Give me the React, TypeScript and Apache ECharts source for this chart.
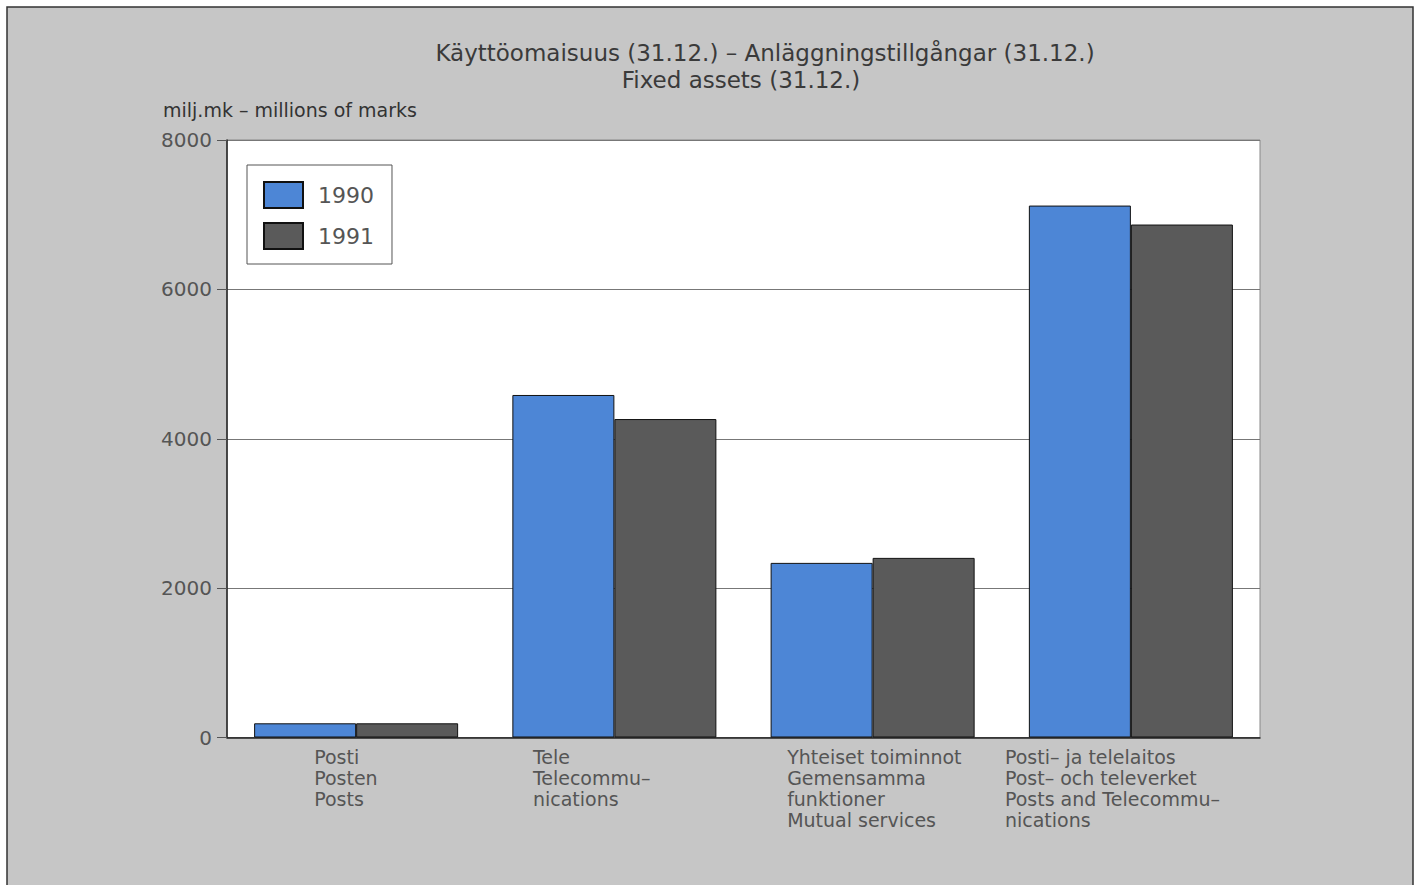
import React, { useEffect, useRef } from "react";
import * as echarts from "echarts";

const categories = [
  ["Posti", "Posten", "Posts"],
  ["Tele", "Telecommu–", "nications"],
  ["Yhteiset toiminnot", "Gemensamma", "funktioner", "Mutual services"],
  ["Posti– ja telelaitos", "Post– och televerket", "Posts and Telecommu–", "nications"],
];
const labelBlockWidths = [84, 163, 171, 252];
const series1990 = [190, 4586, 2338, 7122];
const series1991 = [190, 4264, 2405, 6868];
const yTicks = [0, 2000, 4000, 6000, 8000];
const titleLine1 = "Käyttöomaisuus (31.12.) – Anläggningstillgångar (31.12.)";
const titleLine2 = "Fixed assets (31.12.)";
const unitLabel = "milj.mk – millions of marks";

const FONT = "DejaVu Sans";
const BLUE = "#4d86d6";
const DARK = "#5a5a5a";

export default function App() {
  const ref = useRef<HTMLDivElement>(null);
  useEffect(() => {
    if (!ref.current) return;
    const chart = echarts.init(ref.current, undefined, { renderer: "svg" });
    const rich: Record<string, any> = {};
    labelBlockWidths.forEach((w, i) => {
      rich["p" + i] = {
        width: w,
        align: "left",
        fontSize: 19,
        lineHeight: 21,
        color: "#555",
        fontFamily: FONT,
      };
    });
    chart.setOption({
      animation: false,
      graphic: [
        {
          type: "rect",
          z: -10,
          silent: true,
          shape: { x: 7, y: 7, width: 1406, height: 890 },
          style: { fill: "#c6c6c6", stroke: "#333", lineWidth: 1.5 },
        },
        {
          type: "text",
          x: 765,
          y: 53,
          style: {
            text: titleLine1,
            textAlign: "center",
            textVerticalAlign: "middle",
            font: `23px "${FONT}"`,
            fill: "#3a3a3a",
          },
        },
        {
          type: "text",
          x: 741,
          y: 80,
          style: {
            text: titleLine2,
            textAlign: "center",
            textVerticalAlign: "middle",
            font: `23px "${FONT}"`,
            fill: "#3a3a3a",
          },
        },
        {
          type: "text",
          x: 163,
          y: 110,
          style: {
            text: unitLabel,
            textAlign: "left",
            textVerticalAlign: "middle",
            font: `19px "${FONT}"`,
            fill: "#333",
          },
        },
      ],
      legend: {
        orient: "vertical",
        left: 247,
        top: 165,
        padding: [16, 18, 14, 16],
        itemWidth: 39,
        itemHeight: 26,
        itemGap: 13,
        backgroundColor: "#fff",
        borderColor: "#555",
        borderWidth: 1,
        borderRadius: 0,
        icon: "rect",
        textStyle: {
          fontFamily: FONT,
          fontSize: 22,
          color: "#555",
          padding: [0, 0, 0, 10],
        },
        data: ["1990", "1991"],
      },
      grid: {
        left: 227,
        right: 160,
        top: 140,
        bottom: 147.5,
        show: true,
        backgroundColor: "#fff",
        borderColor: "#888",
        borderWidth: 1,
      },
      xAxis: {
        type: "category",
        data: categories.map((c) => c.join("\n")),
        axisLine: { lineStyle: { color: "#222", width: 1.5 } },
        axisTick: { show: false },
        axisLabel: {
          margin: 9,
          interval: 0,
          align: "center",
          verticalAlign: "top",
          formatter: (_v: string, i: number) =>
            categories[i].map((l) => `{p${i}|${l}}`).join("\n"),
          rich,
        },
      },
      yAxis: {
        type: "value",
        min: yTicks[0],
        max: yTicks[yTicks.length - 1],
        interval: 2000,
        axisLine: { show: true, lineStyle: { color: "#222", width: 1.5 } },
        axisTick: { show: true, length: 10, lineStyle: { color: "#555" } },
        axisLabel: {
          margin: 15,
          fontFamily: FONT,
          fontSize: 20,
          color: "#555",
          formatter: (v: number) => String(v),
        },
        splitLine: { lineStyle: { color: "#777", width: 1 } },
      },
      series: [
        {
          name: "1990",
          type: "bar",
          data: series1990,
          barGap: "0%",
          barCategoryGap: "21%",
          itemStyle: { color: BLUE, borderColor: "#111", borderWidth: 1 },
        },
        {
          name: "1991",
          type: "bar",
          data: series1991,
          barGap: "0%",
          barCategoryGap: "21%",
          itemStyle: { color: DARK, borderColor: "#111", borderWidth: 1 },
        },
      ],
    });
    return () => chart.dispose();
  }, []);
  return (
    <div
      ref={ref}
      style={{ position: "absolute", left: 0, top: 0, width: 1420, height: 885, background: "#fff" }}
    />
  );
}
